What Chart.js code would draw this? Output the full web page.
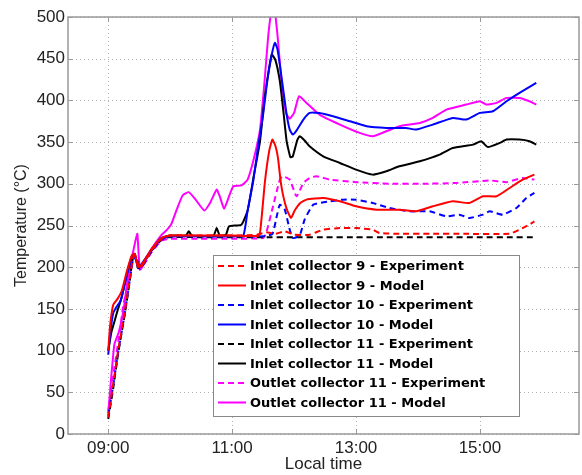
<!DOCTYPE html>
<html>
<head>
<meta charset="utf-8">
<script src="https://cdn.jsdelivr.net/npm/chart.js@4"></script>
<style>
  html, body { margin: 0; padding: 0; background: #fff; }
  #wrap { width: 582px; height: 475px; }
</style>
</head>
<body>
<div id="wrap"><canvas id="tempChart" width="582" height="475"></canvas></div>
<script>
// time in decimal hours, temperature in °C
const xTicks = [9, 11, 13, 15];
const yTicks = [0, 50, 100, 150, 200, 250, 300, 350, 400, 450, 500];

const inlet9Exp = [[9.0,20],[9.08,60],[9.16,100],[9.27,148],[9.35,187],[9.41,214],[9.46,208],[9.51,199],[9.6,208],[9.7,220],[9.86,234],[10.0,238],
  [10.5,238],[11.0,238],[11.4,239],[11.55,242],[11.7,240],[11.85,243],[12.0,239],[12.25,239],[12.47,245],[12.74,247],[13.0,247],[13.27,245],[13.38,241],
  [13.7,240],[14.2,240],[14.8,240],[15.48,240],[15.64,245],[15.8,251],[15.88,255]];
const inlet9Model = [[9.0,100],[9.03,130],[9.08,155],[9.15,162],[9.22,172],[9.3,195],[9.38,214],[9.43,216],[9.48,200],[9.55,204],[9.7,222],[9.86,235],[10.0,238],
  [10.5,238],[11.0,238],[11.43,238],[11.47,255],[11.53,303],[11.6,340],[11.65,353],[11.7,345],[11.74,331],[11.78,305],[11.82,287],[11.88,270],[11.95,259],
  [12.01,268],[12.1,277],[12.2,281],[12.47,283],[12.74,279],[13.0,273],[13.33,269],[13.7,269],[13.97,267],[14.24,273],[14.56,279],[14.83,277],[15.05,285],
  [15.27,285],[15.48,295],[15.69,305],[15.88,311]];
const inlet10Exp = [[9.0,22],[9.08,58],[9.16,98],[9.27,146],[9.35,186],[9.41,213],[9.46,207],[9.51,198],[9.6,207],[9.7,219],[9.86,233],[10.0,237],
  [10.5,237],[11.0,237],[11.5,237],[11.65,240],[11.72,261],[11.77,275],[11.85,269],[11.93,245],[11.98,235],[12.09,238],[12.17,257],[12.31,275],[12.58,279],
  [12.79,281],[13.0,281],[13.27,277],[13.54,271],[13.87,267],[14.19,267],[14.46,261],[14.67,263],[14.83,259],[15.05,263],[15.16,267],[15.37,263],[15.59,271],
  [15.75,283],[15.88,289]];
const inlet10Model = [[9.0,95],[9.03,120],[9.08,145],[9.13,152],[9.2,160],[9.3,190],[9.38,212],[9.43,215],[9.48,200],[9.55,205],[9.7,221],[9.86,234],[10.0,237],
  [10.5,237],[11.0,237],[11.18,238],[11.25,268],[11.34,303],[11.42,345],[11.5,383],[11.57,425],[11.64,455],[11.69,469],[11.73,462],[11.77,443],[11.83,410],
  [11.88,383],[11.93,365],[11.98,359],[12.05,365],[12.15,377],[12.25,385],[12.41,385],[12.63,381],[12.9,375],[13.17,369],[13.49,367],[13.81,367],[13.97,365],
  [14.24,371],[14.56,379],[14.78,377],[15.0,385],[15.21,387],[15.43,399],[15.64,409],[15.91,421]];
const inlet11Exp = [[9.0,18],[9.08,55],[9.16,97],[9.27,145],[9.35,185],[9.4,213],[9.46,209],[9.51,199],[9.67,217],[9.86,233],[9.97,236],
  [10.5,236],[11.0,236],[11.5,236],[12.0,236],[12.5,236],[13.0,236],[13.5,236],[14.0,236],[14.5,236],[15.0,236],[15.5,236],[15.88,236]];
const inlet11Model = [[9.0,100],[9.05,122],[9.1,135],[9.15,148],[9.22,165],[9.3,192],[9.38,213],[9.43,216],[9.48,199],[9.55,204],[9.7,221],[9.86,235],[10.0,238],
  [10.25,238],[10.3,243],[10.35,238],[10.7,238],[10.75,247],[10.8,238],[10.9,239],[10.95,249],[11.15,251],[11.25,268],[11.35,310],[11.45,351],[11.52,400],
  [11.58,431],[11.64,455],[11.7,448],[11.77,423],[11.83,385],[11.88,351],[11.94,332],[11.98,333],[12.05,352],[12.09,357],[12.17,352],[12.25,345],[12.47,333],
  [12.74,325],[13.0,317],[13.27,311],[13.49,315],[13.7,321],[14.03,327],[14.35,335],[14.56,343],[14.89,347],[15.02,351],[15.13,344],[15.32,349],[15.43,353],
  [15.64,353],[15.8,351],[15.91,347]];
const outlet11Exp = [[9.0,27],[9.1,80],[9.19,125],[9.24,153],[9.3,175],[9.36,196],[9.41,214],[9.46,207],[9.51,197],[9.6,206],[9.7,218],[9.86,232],[10.0,234],
  [10.5,234],[11.0,234],[11.5,235],[11.55,241],[11.66,273],[11.77,305],[11.82,309],[11.93,305],[12.04,285],[12.15,301],[12.25,307],[12.36,309],[12.58,305],
  [13.0,302],[13.54,300],[14.08,300],[14.62,301],[15.16,304],[15.43,302],[15.69,307],[15.88,305]];
const outlet11Model = [[9.0,25],[9.05,70],[9.1,108],[9.17,122],[9.25,150],[9.33,195],[9.4,218],[9.44,232],[9.47,240],[9.5,205],[9.53,198],[9.6,208],[9.7,222],
  [9.85,238],[9.95,245],[10.02,252],[10.1,268],[10.2,286],[10.3,290],[10.4,282],[10.55,268],[10.65,278],[10.75,293],[10.8,285],[10.87,270],[10.95,285],
  [11.02,297],[11.15,298],[11.25,305],[11.35,330],[11.45,365],[11.52,420],[11.58,475],[11.63,505],[11.68,510],[11.73,480],[11.8,420],[11.87,385],[11.93,378],
  [12.0,385],[12.08,405],[12.2,397],[12.41,383],[12.74,371],[13.06,361],[13.27,357],[13.49,363],[13.7,369],[14.03,373],[14.24,379],[14.46,389],[14.78,395],
  [15.0,399],[15.1,395],[15.27,397],[15.43,403],[15.64,403],[15.8,399],[15.91,395]];

const seriesNames = [
  'Inlet collector 9 - Experiment', 'Inlet collector 9 - Model',
  'Inlet collector 10 - Experiment', 'Inlet collector 10 - Model',
  'Inlet collector 11 - Experiment', 'Inlet collector 11 - Model',
  'Outlet collector 11 - Experiment', 'Outlet collector 11 - Model'
];
const seriesData = [inlet9Exp, inlet9Model, inlet10Exp, inlet10Model, inlet11Exp, inlet11Model, outlet11Exp, outlet11Model];
const seriesColors = ['#ff0000', '#ff0000', '#0000ff', '#0000ff', '#000000', '#000000', '#ff00ff', '#ff00ff'];
const dashed = [true, false, true, false, true, false, true, false];

const datasets = seriesData.map((d, i) => ({
  label: seriesNames[i],
  data: d.map(p => ({ x: p[0], y: p[1] })),
  borderColor: seriesColors[i],
  borderWidth: 2,
  borderDash: dashed[i] ? [6, 4] : [],
  pointRadius: 0,
  tension: 0.15,
  fill: false
}));

// dotted grid under the lines
const dottedGrid = {
  id: 'dottedGrid',
  beforeDatasetsDraw(chart) {
    const ctx = chart.ctx, a = chart.chartArea;
    const ys = chart.scales.y, xs = chart.scales.x;
    ctx.save();
    ctx.strokeStyle = '#b4b4b4';
    ctx.lineWidth = 1;
    ctx.setLineDash([1, 3]);
    yTicks.forEach(v => {
      const y = Math.round(ys.getPixelForValue(v)) + 0.5;
      ctx.beginPath(); ctx.moveTo(a.left, y); ctx.lineTo(a.right, y); ctx.stroke();
    });
    xTicks.forEach(v => {
      const x = Math.round(xs.getPixelForValue(v)) + 0.5;
      ctx.beginPath(); ctx.moveTo(x, a.top); ctx.lineTo(x, a.bottom); ctx.stroke();
    });
    ctx.restore();
  }
};

// box around plot, inward ticks, and the legend drawn inside the plot
const boxAndLegend = {
  id: 'boxAndLegend',
  afterDatasetsDraw(chart) {
    const ctx = chart.ctx, a = chart.chartArea;
    ctx.save();
    ctx.strokeStyle = '#999';
    ctx.lineWidth = 1.5;
    ctx.setLineDash([]);
    ctx.strokeRect(a.left, a.top, a.right - a.left, a.bottom - a.top);
    ctx.lineWidth = 1;
    const ys = chart.scales.y, xs = chart.scales.x;
    yTicks.forEach(v => {
      const y = Math.round(ys.getPixelForValue(v)) + 0.5;
      ctx.beginPath(); ctx.moveTo(a.left, y); ctx.lineTo(a.left + 5, y); ctx.stroke();
      ctx.beginPath(); ctx.moveTo(a.right, y); ctx.lineTo(a.right - 5, y); ctx.stroke();
    });
    xTicks.forEach(v => {
      const x = Math.round(xs.getPixelForValue(v)) + 0.5;
      ctx.beginPath(); ctx.moveTo(x, a.bottom); ctx.lineTo(x, a.bottom - 5); ctx.stroke();
      ctx.beginPath(); ctx.moveTo(x, a.top); ctx.lineTo(x, a.top + 5); ctx.stroke();
    });

    // legend
    const lx = a.left + 145, ly = a.top + 238, lw = 306, lh = 161;
    ctx.fillStyle = '#fff';
    ctx.fillRect(lx, ly, lw, lh);
    ctx.strokeStyle = '#888';
    ctx.lineWidth = 1;
    ctx.strokeRect(lx + 0.5, ly + 0.5, lw, lh);
    ctx.font = 'bold 13px "DejaVu Sans", sans-serif';
    ctx.textBaseline = 'middle';
    seriesNames.forEach((name, i) => {
      const cy = ly + 11 + i * 19.5;
      ctx.strokeStyle = seriesColors[i];
      ctx.lineWidth = 2;
      ctx.setLineDash(dashed[i] ? [6, 4] : []);
      ctx.beginPath(); ctx.moveTo(lx + 5, cy); ctx.lineTo(lx + 33, cy); ctx.stroke();
      ctx.setLineDash([]);
      ctx.fillStyle = '#000';
      ctx.fillText(name, lx + 37, cy + 1);
    });
    ctx.restore();
  }
};

const fmtHour = v => String(v).padStart(2, '0') + ':00';

new Chart(document.getElementById('tempChart').getContext('2d'), {
  type: 'line',
  data: { datasets: datasets },
  options: {
    responsive: false,
    animation: false,
    layout: { padding: { top: 17, right: 3, left: 12, bottom: 0 } },
    plugins: {
      legend: { display: false },
      tooltip: { enabled: false }
    },
    scales: {
      x: {
        type: 'linear',
        min: 8.35,
        max: 16.6,
        afterBuildTicks: s => { s.ticks = xTicks.map(v => ({ value: v })); },
        afterFit: s => { s.height = 41; },
        ticks: {
          callback: v => fmtHour(v),
          font: { family: '"Liberation Sans", Arial', size: 17 },
          color: '#222',
          padding: 4,
          maxRotation: 0
        },
        grid: { color: 'rgba(0,0,0,0)', drawTicks: false, tickLength: 0 },
        border: { display: false },
        title: {
          display: true,
          text: 'Local time',
          font: { family: '"Liberation Sans", Arial', size: 17 },
          color: '#222',
          padding: { top: 1, bottom: 0 }
        }
      },
      y: {
        min: 0,
        max: 500,
        afterBuildTicks: s => { s.ticks = yTicks.map(v => ({ value: v })); },
        afterFit: s => { s.width = 56; },
        ticks: {
          font: { family: '"Liberation Sans", Arial', size: 17 },
          color: '#222',
          padding: 3
        },
        grid: { color: 'rgba(0,0,0,0)', drawTicks: false, tickLength: 0 },
        border: { display: false },
        title: {
          display: true,
          text: 'Temperature (°C)',
          font: { family: '"Liberation Sans", Arial', size: 16 },
          color: '#222',
          padding: { top: 0, bottom: 2 }
        }
      }
    }
  },
  plugins: [dottedGrid, boxAndLegend]
});
</script>
</body>
</html>
